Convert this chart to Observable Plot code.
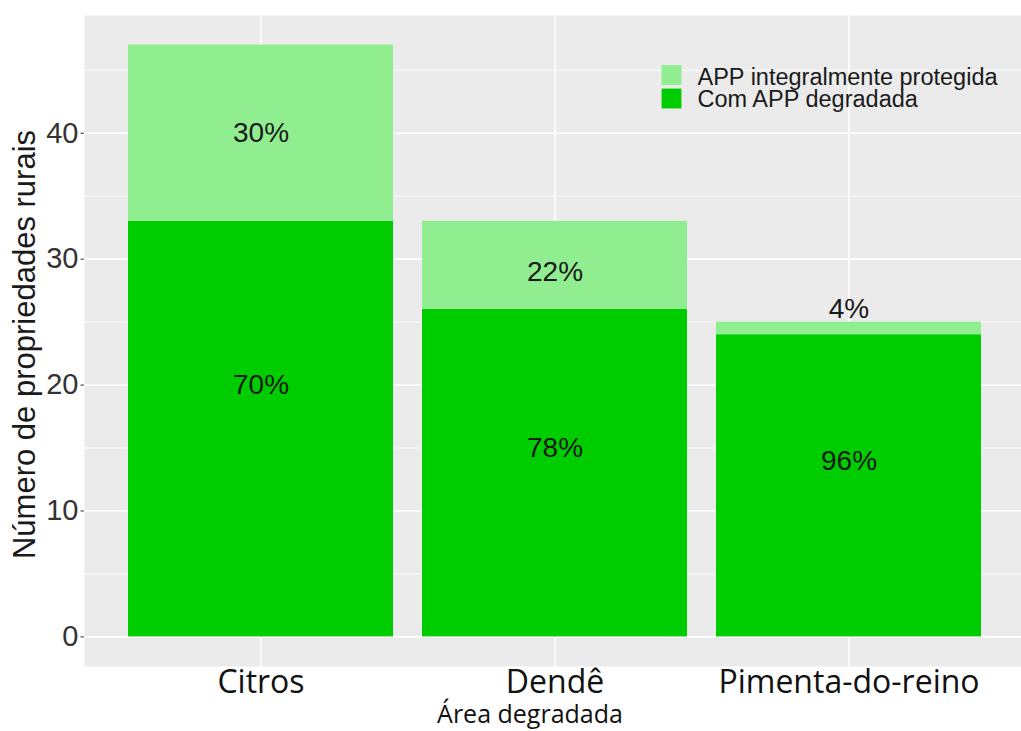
<!DOCTYPE html>
<html><head><meta charset="utf-8">
<script src="https://cdn.jsdelivr.net/npm/d3@7"></script>
<script src="https://cdn.jsdelivr.net/npm/@observablehq/plot@0.6"></script>
<style>body{margin:0;background:#fff}</style>
</head><body><div id="chart"></div>
<script>
const crops = ["Citros", "Dendê", "Pimenta-do-reino"];
const seriesNames = ["Com APP degradada", "APP integralmente protegida"];
const degradada = [33, 26, 24];
const protegida = [14, 7, 1];
const pctDegradada = ["70%", "78%", "96%"];
const pctProtegida = ["30%", "22%", "4%"];
const labelYDegradada = [20, 15, 14];
const labelYProtegida = [40, 29, 26];
const yTicks = [0, 10, 20, 30, 40];
const yMinor = [5, 15, 25, 35, 45];
const legendOrder = ["APP integralmente protegida", "Com APP degradada"];
const colors = ["#90EE90", "#00CD00"];
const yTitle = "Número de propriedades rurais";
const xTitle = "Área degradada";

const rows = [];
crops.forEach((c, i) => {
  rows.push({crop: c, type: seriesNames[0], n: degradada[i]});
  rows.push({crop: c, type: seriesNames[1], n: protegida[i]});
});
const labels = [];
crops.forEach((c, i) => {
  labels.push({crop: c, y: labelYDegradada[i], t: pctDegradada[i]});
  labels.push({crop: c, y: labelYProtegida[i], t: pctProtegida[i]});
});

const chart = Plot.plot({
  width: 1021, height: 731,
  marginLeft: 84, marginRight: 0, marginTop: 15, marginBottom: 65,
  style: {background: "#fff", fontFamily: "'Liberation Sans', Arial, sans-serif"},
  x: {domain: crops, range: [84, 1025], paddingInner: 0.1, paddingOuter: 0.15, axis: null},
  y: {domain: [-2.35, 49.35], axis: null},
  color: {domain: legendOrder, range: colors},
  marks: [
    Plot.frame({fill: "#EBEBEB", stroke: null}),
    Plot.ruleY(yMinor, {stroke: "#fff", strokeWidth: 0.8}),
    Plot.ruleY(yTicks, {stroke: "#fff", strokeWidth: 1.6}),
    Plot.ruleX(crops, {x: d => d, stroke: "#fff", strokeWidth: 1.6}),
    Plot.barY(rows, {x: "crop", y: "n", fill: "type"}),
    Plot.text(labels, {x: "crop", y: "y", text: "t", fontSize: 28, fill: "#1a1a1a"}),
    Plot.axisY({ticks: yTicks, tickSize: 3.5, tickPadding: 2.5, fontSize: 29, color: "#333", label: null}),
    Plot.axisX({tickSize: 0, tickPadding: 4, fontSize: 32, fontFamily: "'Open Sans', sans-serif", color: "#111", label: null}),
    Plot.text([yTitle], {frameAnchor: "left", rotate: -90, textAnchor: "middle", lineAnchor: "middle", dx: -59, dy: 3.5, fontSize: 31, fill: "#1a1a1a", text: d => d}),
    Plot.text([xTitle], {frameAnchor: "bottom", textAnchor: "middle", lineAnchor: "middle", dx: -23, dy: 48, fontSize: 25, fontFamily: "'Open Sans', sans-serif", fill: "#111", text: d => d}),
    ...legendOrder.map((name, i) => Plot.dot([name], {frameAnchor: "top-left", dx: 587, dy: 59.5 + i * 23.5, symbol: "square", r: 11.2, fill: d => d})),
    ...legendOrder.map((name, i) => Plot.text([name], {frameAnchor: "top-left", textAnchor: "start", lineAnchor: "middle", dx: 613, dy: 62 + i * 21.5, fontSize: 23.5, fill: "#1a1a1a", text: d => d}))
  ]
});
document.getElementById("chart").appendChild(chart);
</script>
</body></html>
